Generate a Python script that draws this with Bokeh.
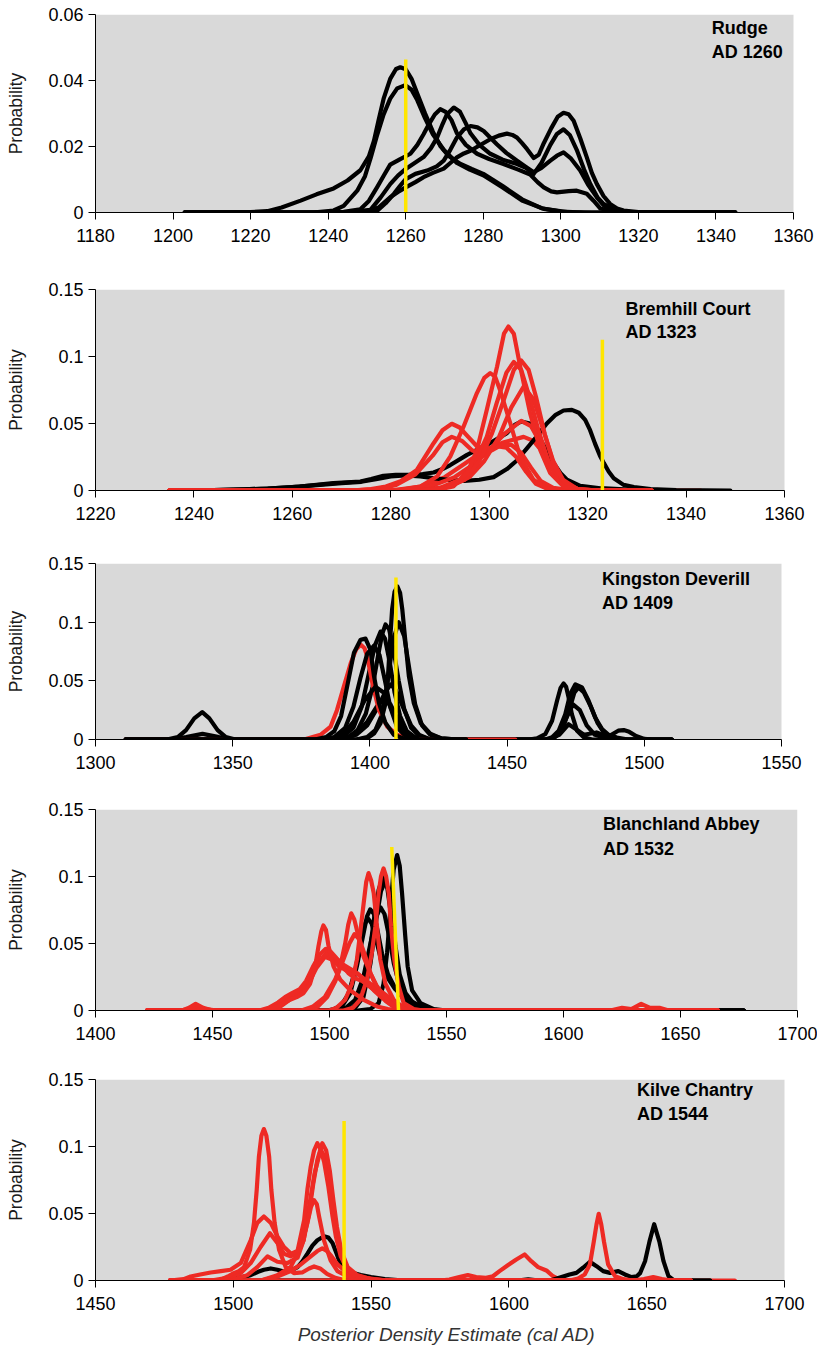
from bokeh.plotting import figure
from bokeh.layouts import column
from bokeh.models import Range1d, FixedTicker, Label, BoxAnnotation
from bokeh.embed import file_html
from bokeh.resources import INLINE

BLACK = "#000000"
RED = "#EE2A24"
YELLOW = "#FFE600"
GRAY = "#D9D9D9"

# ---------------- Panel 1: Rudge (AD 1260) ----------------
rudge_a = [(1203,0),(1220,0.0001),(1224.3,0.0004),(1228,0.0015),(1232.9,0.0036),(1237,0.0055),(1241.4,0.0073),(1245,0.0097),(1248.3,0.0128),(1250.5,0.017),(1251.8,0.0217),(1253,0.028),(1254.3,0.0345),(1256,0.0405),(1257.5,0.0435),(1258.6,0.0440),(1260,0.0434),(1261.5,0.0405),(1263,0.036),(1265,0.0300),(1267,0.0245),(1269,0.0200),(1271,0.0172),(1274,0.0148),(1277,0.0132),(1280,0.0117),(1285,0.0080),(1290,0.0040),(1295,0.0013),(1300,0.0003),(1306,0),(1345,0)]
rudge_b = [(1203,0),(1236,0),(1241.4,0.0006),(1244,0.002),(1247.5,0.0066),(1249.5,0.011),(1251,0.0167),(1252.5,0.023),(1254.3,0.0297),(1256,0.0345),(1257.8,0.0376),(1259.9,0.0386),(1261.5,0.0372),(1263,0.0340),(1265,0.0285),(1267,0.0237),(1269.8,0.0190),(1273.2,0.0150),(1276.5,0.0130),(1280,0.0113),(1285,0.0076),(1290,0.0036),(1295.6,0.0011),(1301.6,0.0001),(1308,0),(1345,0)]
rudge_c = [(1203,0),(1238,0),(1244,0.0002),(1248.3,0.0010),(1250.5,0.0035),(1252.6,0.0076),(1254.5,0.0115),(1256,0.0145),(1258.6,0.0162),(1261.2,0.0178),(1263,0.0205),(1264.6,0.0237),(1266,0.0268),(1267.5,0.0297),(1268.9,0.0313),(1270.3,0.0305),(1271.8,0.0280),(1273.2,0.0240),(1275.5,0.0205),(1278.4,0.0178),(1281.5,0.0162),(1285.2,0.0147),(1289,0.0130),(1292.1,0.0115),(1294,0.0092),(1295.6,0.0076),(1297.5,0.0064),(1299,0.0061),(1302,0.0065),(1304.1,0.0066),(1306.7,0.0057),(1308.5,0.0035),(1310.2,0.0012),(1314.4,0.0001),(1320,0),(1345,0)]
rudge_d = [(1203,0),(1240,0),(1246,0.0002),(1250.9,0.0008),(1253.5,0.0045),(1256,0.0086),(1258,0.0112),(1260,0.0132),(1262.3,0.0150),(1264.6,0.0168),(1266.5,0.0195),(1268.1,0.0227),(1269.5,0.0268),(1270.6,0.0297),(1272.4,0.0318),(1274,0.0305),(1275.5,0.0270),(1276.7,0.0240),(1279,0.0205),(1281.8,0.0178),(1285,0.0160),(1288.7,0.0147),(1291,0.0135),(1293,0.0117),(1295,0.0150),(1297.3,0.0205),(1299,0.0238),(1300.7,0.0252),(1302.3,0.0235),(1304.1,0.0190),(1306,0.0130),(1307.6,0.0086),(1309.5,0.0045),(1311,0.0026),(1314.4,0.0006),(1318,0.0001),(1325,0),(1345,0)]
rudge_e = [(1203,0),(1244,0),(1249,0.0001),(1252.6,0.0005),(1254.8,0.0028),(1256.9,0.0056),(1258.5,0.0080),(1260,0.0101),(1262.5,0.0117),(1265.5,0.0127),(1268,0.0140),(1269.8,0.0157),(1271.5,0.0190),(1273.2,0.0227),(1275,0.0252),(1276.7,0.0262),(1278.5,0.0258),(1280.1,0.0247),(1283.5,0.0207),(1286,0.0180),(1288.7,0.0157),(1291,0.0138),(1293,0.0122),(1295,0.0135),(1297.3,0.0157),(1299,0.0172),(1300.7,0.0182),(1302.5,0.0165),(1305,0.0127),(1307,0.0085),(1309.3,0.0046),(1311,0.0022),(1312.7,0.0011),(1316.2,0.0001),(1322,0),(1345,0)]
rudge_f = [(1203,0),(1244,0),(1250,0.0002),(1253,0.0015),(1256,0.0046),(1258,0.0062),(1260,0.0076),(1262.5,0.0092),(1264.6,0.0107),(1267,0.0120),(1269.8,0.0133),(1271.5,0.0150),(1273.2,0.0167),(1275,0.0179),(1276.7,0.0187),(1279,0.0203),(1281.8,0.0222),(1284,0.0233),(1286.1,0.0239),(1287.5,0.0235),(1288.7,0.0227),(1290,0.0210),(1291.3,0.0192),(1293,0.0165),(1294.3,0.0175),(1295.6,0.0210),(1297.5,0.0255),(1299.2,0.0290),(1300.7,0.0302),(1302,0.0298),(1303.3,0.0278),(1305,0.0225),(1306.7,0.0167),(1308,0.0120),(1309.3,0.0086),(1311,0.0050),(1312.7,0.0026),(1314.5,0.0012),(1316.2,0.0006),(1320,0.0001),(1330,0),(1345,0)]

# ---------------- Panel 2: Bremhill Court (AD 1323) ----------------
brem_k1 = [(1240,0),(1250,0.0008),(1255,0.0015),(1260,0.0025),(1265,0.0040),(1270,0.0055),(1274,0.0065),(1277,0.0085),(1280,0.0105),(1283,0.0112),(1286,0.0105),(1289,0.0090),(1292,0.0078),(1295,0.0072),(1298,0.0080),(1300.9,0.0100),(1303.6,0.0160),(1305.5,0.0220),(1307.7,0.0316),(1309.8,0.0410),(1311.7,0.0500),(1313.5,0.0565),(1315.1,0.0597),(1316.8,0.0602),(1318.2,0.0580),(1319.5,0.0527),(1320.5,0.0450),(1321.5,0.0350),(1322.5,0.0260),(1323.3,0.0204),(1324.3,0.0140),(1325.3,0.0092),(1327.3,0.0042),(1329.4,0.0025),(1332.8,0.0010),(1338,0.0003),(1349,0)]
brem_k2 = [(1240,0),(1250,0.0008),(1255,0.0015),(1261.5,0.0030),(1268.3,0.0055),(1273.8,0.0067),(1276,0.0085),(1278.5,0.0110),(1281,0.0117),(1283.9,0.0117),(1286.5,0.0122),(1288.7,0.0134),(1290.5,0.0160),(1292.1,0.0190),(1295.5,0.0266),(1299.5,0.0340),(1303.6,0.0428),(1305.2,0.0490),(1306.5,0.0515),(1308.3,0.0500),(1309.5,0.0445),(1310.4,0.0378),(1311.8,0.0290),(1313.1,0.0204),(1314.5,0.0130),(1315.8,0.0080),(1318.5,0.0035),(1322.6,0.0017),(1329.4,0.0005),(1335,0)]
brem_r1 = [(1235,0),(1285,0),(1290,0.001),(1292.7,0.003),(1295.5,0.013),(1297.5,0.030),(1299.5,0.060),(1301.6,0.0925),(1303,0.117),(1303.9,0.1224),(1305,0.117),(1306.3,0.0925),(1308.3,0.0577),(1310.4,0.030),(1312.4,0.013),(1315.1,0.003),(1318,0.0005),(1333,0)]
brem_r2 = [(1235,0),(1280,0),(1283,0.001),(1286,0.003),(1289.4,0.0104),(1292.1,0.0254),(1294.8,0.0478),(1297.5,0.0727),(1299,0.084),(1300.2,0.0876),(1301.2,0.085),(1302.2,0.075),(1304.3,0.050),(1306.3,0.025),(1309,0.008),(1311.7,0.0017),(1315,0),(1333,0)]
brem_r3 = [(1235,0),(1285,0),(1290,0.002),(1294,0.008),(1297,0.02),(1299.5,0.04),(1301.5,0.065),(1303.5,0.088),(1305,0.096),(1306.5,0.09),(1308,0.072),(1310,0.045),(1312,0.022),(1314,0.008),(1316.5,0.002),(1320,0),(1333,0)]
brem_r4 = [(1235,0),(1286,0),(1291,0.002),(1295,0.008),(1298,0.022),(1300.5,0.042),(1303,0.068),(1305,0.09),(1306.5,0.097),(1308,0.09),(1309.5,0.07),(1311.3,0.042),(1313.2,0.018),(1315.5,0.005),(1318,0.001),(1322,0),(1333,0)]
brem_r5 = [(1235,0),(1286,0),(1292,0.003),(1296,0.01),(1299,0.022),(1302,0.04),(1304.5,0.062),(1307,0.0776),(1309,0.068),(1311,0.045),(1313,0.022),(1315,0.008),(1318,0.001),(1322,0),(1333,0)]
brem_r6 = [(1235,0),(1282,0),(1288,0.003),(1293,0.01),(1297,0.02),(1300,0.03),(1303,0.042),(1306.5,0.052),(1308.5,0.048),(1310.5,0.035),(1312.5,0.018),(1315,0.006),(1318,0.001),(1322,0),(1333,0)]
brem_r7 = [(1235,0),(1280,0),(1286,0.003),(1291,0.01),(1295,0.02),(1299,0.03),(1303,0.036),(1307,0.040),(1309,0.037),(1311,0.028),(1313,0.015),(1315.5,0.005),(1318,0.001),(1322,0),(1343,0)]
brem_r8 = [(1235,0),(1272,0),(1276,0.001),(1279,0.003),(1282,0.007),(1285.3,0.0154),(1288.7,0.0353),(1290.5,0.045),(1292.4,0.0498),(1294,0.047),(1295.5,0.041),(1297.5,0.033),(1299.5,0.031),(1301.5,0.033),(1303.5,0.032),(1305.5,0.025),(1307.5,0.014),(1309.5,0.005),(1312,0.001),(1316,0),(1333,0)]
brem_r9 = [(1235,0),(1272,0),(1277,0.001),(1281,0.004),(1285,0.012),(1288.5,0.026),(1290.5,0.036),(1292.4,0.040),(1294.5,0.037),(1296.5,0.030),(1298.5,0.027),(1300.5,0.030),(1302.5,0.034),(1304.5,0.034),(1306.5,0.028),(1308.5,0.017),(1310.5,0.007),(1313,0.002),(1317,0),(1333,0)]

# ---------------- Panel 3: Kingston Deverill (AD 1409) ----------------
king_1 = [(1311,0),(1395,0),(1399,0.001),(1401.5,0.005),(1403.9,0.014),(1405.7,0.031),(1406.6,0.054),(1407.3,0.082),(1408.1,0.111),(1409,0.126),(1410,0.1305),(1411,0.125),(1411.8,0.111),(1413,0.082),(1414.2,0.054),(1416,0.031),(1418.5,0.014),(1422,0.005),(1426,0.001),(1432,0),(1435,0)]
king_2 = [(1311,0),(1395,0),(1399,0.002),(1402,0.008),(1404.5,0.022),(1406.5,0.050),(1408.5,0.085),(1410.5,0.100),(1412.5,0.088),(1414.5,0.058),(1416.5,0.030),(1419,0.012),(1422,0.004),(1426,0.001),(1432,0),(1458,0),(1460.9,0.001),(1463.9,0.0045),(1466.4,0.016),(1468.2,0.033),(1469.5,0.044),(1470.6,0.0478),(1471.5,0.045),(1472.4,0.036),(1473.6,0.0216),(1475.5,0.0074),(1477.9,0.002),(1481,0),(1510,0)]
king_3 = [(1311,0),(1388,0),(1392,0.002),(1395.5,0.008),(1398.5,0.022),(1401,0.045),(1403,0.072),(1404.5,0.090),(1405.7,0.098),(1407,0.094),(1408.5,0.078),(1410.5,0.050),(1412.5,0.026),(1415,0.010),(1418,0.003),(1422,0),(1464,0),(1466.4,0.002),(1468.8,0.0074),(1471.2,0.0216),(1473,0.0387),(1474.9,0.047),(1477.3,0.0444),(1479.7,0.033),(1482.1,0.0188),(1484.6,0.0088),(1487,0.004),(1490,0.0017),(1494,0),(1510,0)]
king_4 = [(1311,0),(1386,0),(1390,0.002),(1394,0.010),(1397,0.028),(1399.5,0.055),(1401.8,0.080),(1403.9,0.092),(1405.5,0.086),(1407.3,0.065),(1409,0.040),(1411,0.020),(1413.5,0.007),(1417,0.001),(1420,0),(1465,0),(1467.5,0.002),(1470,0.008),(1472.5,0.024),(1474.5,0.040),(1476,0.0444),(1478,0.040),(1480.5,0.028),(1483,0.014),(1485.5,0.005),(1489,0.001),(1493,0),(1510,0)]
king_5 = [(1311,0),(1380,0),(1384,0.002),(1387,0.007),(1389.5,0.020),(1391.7,0.045),(1394.2,0.074),(1396.6,0.085),(1398.4,0.086),(1400.2,0.0765),(1401.5,0.054),(1403.3,0.031),(1405.7,0.014),(1408.7,0.004),(1412,0.001),(1416,0),(1435,0)]
king_6 = [(1311,0),(1383,0),(1387,0.002),(1391,0.010),(1394,0.028),(1396.5,0.052),(1399,0.073),(1401.5,0.080),(1403.5,0.072),(1405.5,0.050),(1407.5,0.027),(1410,0.010),(1413,0.003),(1417,0),(1435,0)]
king_7 = [(1311,0),(1326,0),(1330,0.002),(1333,0.008),(1336,0.018),(1338.9,0.0233),(1341.5,0.018),(1344.5,0.008),(1347.5,0.002),(1351,0),(1385,0),(1390,0.004),(1394,0.015),(1398,0.033),(1402,0.045),(1405,0.040),(1408,0.025),(1411,0.010),(1414,0.003),(1418,0),(1435,0)]
king_8 = [(1311,0),(1328,0),(1333,0.002),(1339,0.0048),(1345,0.002),(1350,0),(1390,0),(1395,0.004),(1399,0.012),(1403,0.028),(1405.5,0.040),(1407.6,0.047),(1409.5,0.042),(1412,0.028),(1415,0.012),(1418,0.004),(1422,0),(1465,0),(1469,0.004),(1472.4,0.013),(1475,0.009),(1478,0.004),(1482.6,0.006),(1486,0.003),(1490,0),(1510,0)]
king_9 = [(1311,0),(1390,0),(1395,0.005),(1399,0.015),(1402.5,0.028),(1405,0.035),(1407.5,0.030),(1410,0.018),(1413,0.007),(1416,0.002),(1420,0),(1466,0),(1469,0.005),(1471.5,0.018),(1474,0.030),(1476.5,0.025),(1479,0.012),(1482,0.004),(1485,0.002),(1488,0.004),(1490.5,0.0075),(1492.5,0.008),(1494.5,0.0065),(1497,0.003),(1500,0.0005),(1503,0),(1510,0)]
king_r1 = [(1311,0),(1376,0),(1382,0.004),(1385.7,0.011),(1388,0.025),(1390.5,0.045),(1393,0.065),(1395,0.077),(1396.6,0.0808),(1398,0.078),(1399,0.071),(1400.9,0.048),(1403.3,0.025),(1406.3,0.011),(1410,0.004),(1414.8,0.0003),(1420,0),(1453,0)]

# ---------------- Panel 4: Blanchland Abbey (AD 1532) ----------------
blan_k1 = [(1425,0),(1512,0),(1517.4,0.001),(1521,0.0055),(1523.1,0.020),(1524.6,0.043),(1526,0.075),(1527.4,0.105),(1528.9,0.116),(1530,0.108),(1531,0.0876),(1532.4,0.055),(1533.4,0.033),(1535.3,0.015),(1538.9,0.0055),(1544.6,0.001),(1550,0),(1677,0)]
blan_k2 = [(1425,0),(1505,0),(1510,0.002),(1513.5,0.010),(1516.5,0.035),(1519,0.068),(1521,0.090),(1522.9,0.1003),(1524.5,0.094),(1526,0.075),(1527.5,0.050),(1529,0.028),(1531,0.012),(1534,0.004),(1538,0.001),(1545,0),(1677,0)]
blan_k3 = [(1425,0),(1506,0),(1511,0.002),(1514.5,0.010),(1517.5,0.035),(1520,0.068),(1522,0.089),(1523.7,0.096),(1525.2,0.090),(1526.7,0.072),(1528.2,0.048),(1530,0.027),(1532.5,0.013),(1536,0.005),(1540,0.0015),(1546,0),(1677,0)]
blan_k4 = [(1425,0),(1500,0),(1503,0.001),(1505.3,0.003),(1508.9,0.013),(1511.7,0.033),(1514.6,0.058),(1516,0.070),(1517.4,0.0755),(1519,0.072),(1520.5,0.060),(1522.5,0.042),(1525,0.027),(1528,0.017),(1531,0.010),(1535,0.004),(1540,0.001),(1546,0),(1677,0)]
blan_k5 = [(1425,0),(1499,0),(1502,0.001),(1505,0.004),(1508,0.012),(1511,0.030),(1513.5,0.052),(1515,0.064),(1516.3,0.069),(1518,0.065),(1520,0.052),(1522,0.038),(1525,0.024),(1528,0.016),(1531,0.011),(1534,0.008),(1537,0.005),(1541,0.002),(1546,0),(1677,0)]
blan_k6 = [(1425,0),(1503,0),(1507,0.002),(1511,0.008),(1514.5,0.025),(1517.5,0.050),(1520,0.070),(1521.8,0.077),(1523.5,0.072),(1525.5,0.055),(1527.5,0.035),(1530,0.018),(1533,0.008),(1537,0.003),(1542,0.001),(1548,0),(1677,0)]
blan_r1 = [(1422,0),(1500,0),(1503,0.002),(1506.7,0.008),(1509.6,0.020),(1511.7,0.038),(1513.1,0.0577),(1514.6,0.080),(1515.7,0.096),(1516.7,0.1025),(1517.8,0.097),(1518.9,0.0876),(1520.3,0.0627),(1521.7,0.038),(1523.9,0.020),(1527.4,0.008),(1531.7,0.0017),(1536,0),(1666,0)]
blan_r2 = [(1422,0),(1506,0),(1510,0.002),(1513.1,0.008),(1516,0.023),(1518.1,0.043),(1519.6,0.0627),(1521,0.0876),(1522,0.100),(1523.1,0.106),(1524.2,0.100),(1525.3,0.0876),(1526.3,0.0627),(1527.7,0.038),(1529.6,0.018),(1531.7,0.0055),(1536,0.001),(1540,0),(1666,0)]
blan_r3 = [(1422,0),(1488,0),(1493,0.003),(1498,0.010),(1502.4,0.023),(1504.6,0.033),(1506.7,0.050),(1508,0.064),(1509.3,0.0725),(1510.6,0.068),(1512.4,0.055),(1514.6,0.040),(1517.4,0.028),(1520.3,0.018),(1524.6,0.008),(1528,0.003),(1532,0.001),(1536,0),(1666,0)]
blan_r4 = [(1422,0),(1490,0),(1495,0.003),(1499,0.010),(1502.5,0.022),(1505.5,0.036),(1508.5,0.050),(1510.7,0.057),(1512.8,0.053),(1515,0.042),(1517.5,0.028),(1520.5,0.016),(1524,0.007),(1528,0.002),(1533,0),(1666,0)]
blan_r5 = [(1422,0),(1437,0),(1440,0.002),(1442.8,0.005),(1446,0.002),(1450,0),(1472,0),(1474.6,0.001),(1478.9,0.004),(1483.1,0.008),(1486,0.010),(1488.9,0.013),(1491.7,0.020),(1493.9,0.033),(1495.3,0.048),(1496.5,0.059),(1497.4,0.0635),(1498.5,0.060),(1499.6,0.048),(1501.7,0.033),(1504.6,0.023),(1508.9,0.015),(1514.6,0.008),(1520.3,0.003),(1525,0.001),(1530,0),(1666,0)]
blan_r6 = [(1422,0),(1470,0),(1474,0.002),(1478,0.006),(1481,0.010),(1484,0.013),(1487.3,0.016),(1490,0.022),(1493,0.033),(1496,0.042),(1498.4,0.046),(1500.5,0.044),(1503,0.039),(1506,0.034),(1509,0.031),(1511.7,0.028),(1514.5,0.024),(1517.4,0.020),(1520.3,0.016),(1523.1,0.013),(1526,0.009),(1528.9,0.0055),(1532,0.002),(1536,0),(1620,0),(1625,0.002),(1629,0.001),(1633.2,0.005),(1637,0.002),(1641,0.002),(1645,0),(1666,0)]
blan_r7 = [(1422,0),(1472,0),(1476,0.002),(1480,0.007),(1484,0.011),(1487.5,0.014),(1491,0.022),(1494.5,0.034),(1498.5,0.0425),(1502,0.040),(1505,0.034),(1508,0.028),(1511,0.024),(1514,0.022),(1517,0.018),(1520,0.014),(1524,0.009),(1528,0.004),(1532,0.001),(1536,0),(1666,0)]
blan_r8 = [(1422,0),(1436,0),(1440,0.001),(1443,0.003),(1447,0.001),(1452,0),(1475,0),(1479,0.003),(1483,0.008),(1487,0.012),(1491,0.020),(1494.5,0.032),(1498,0.040),(1501,0.038),(1504,0.033),(1507,0.030),(1510,0.029),(1513,0.026),(1516,0.021),(1519,0.015),(1522,0.010),(1526,0.005),(1530,0.002),(1535,0),(1666,0)]

# ---------------- Panel 5: Kilve Chantry (AD 1544) ----------------
kilve_k1 = [(1493,0),(1500,0.001),(1506.3,0.004),(1509,0.0065),(1511.1,0.008),(1513.6,0.009),(1516,0.008),(1518.4,0.0067),(1521,0.0075),(1523.3,0.010),(1525,0.014),(1526.9,0.020),(1528.7,0.026),(1530.5,0.030),(1532.9,0.033),(1534.5,0.032),(1536,0.028),(1537.3,0.021),(1538.4,0.015),(1540,0.010),(1541.4,0.008),(1543.5,0.0055),(1546.3,0.004),(1550,0.0025),(1555,0.001),(1562,0),(1603,0),(1607,0.0008),(1611,0),(1673,0)]
kilve_k2 = [(1493,0),(1615,0),(1619.7,0.003),(1622,0.0045),(1624.5,0.0057),(1626.9,0.0095),(1629.4,0.0139),(1631.8,0.0107),(1634.2,0.0070),(1636.7,0.0057),(1639.7,0.0070),(1642.1,0.0045),(1644.5,0.0025),(1646.4,0.0032),(1647.6,0.0055),(1649.4,0.0144),(1651,0.029),(1652.7,0.042),(1654.6,0.029),(1656.1,0.0144),(1657.9,0.0032),(1659.7,0.0005),(1663,0),(1673,0)]
kilve_r1 = [(1477,0),(1495,0),(1498,0.003),(1500.2,0.0055),(1502,0.007),(1503.9,0.010),(1506.1,0.023),(1507.5,0.043),(1508.5,0.0677),(1509.3,0.0926),(1510.2,0.108),(1511.1,0.113),(1512,0.108),(1513,0.0926),(1513.8,0.0677),(1515,0.043),(1516.6,0.023),(1519,0.010),(1522,0.0055),(1525,0.006),(1527.5,0.009),(1529.3,0.0105),(1531.5,0.009),(1534,0.005),(1537,0.002),(1541,0),(1666,0)]
kilve_r2 = [(1477,0),(1482,0.001),(1484.5,0.003),(1488,0.0045),(1491.8,0.006),(1495.5,0.007),(1499,0.008),(1502.7,0.013),(1506.3,0.030),(1508.7,0.043),(1511.1,0.0478),(1513.6,0.043),(1516,0.033),(1518.4,0.025),(1521,0.020),(1523.3,0.022),(1525.7,0.045),(1526.9,0.068),(1528.1,0.085),(1529.3,0.097),(1530.5,0.1025),(1531.7,0.098),(1533,0.088),(1534.5,0.070),(1536,0.048),(1537.2,0.033),(1539,0.018),(1541.4,0.008),(1545,0.003),(1550,0.001),(1555,0),(1666,0)]
kilve_r3 = [(1477,0),(1492,0),(1497.8,0.002),(1502.7,0.0055),(1506.3,0.013),(1509.9,0.025),(1513.3,0.0353),(1516,0.028),(1518.4,0.020),(1520.8,0.018),(1523.3,0.020),(1525.5,0.030),(1527.5,0.050),(1529,0.072),(1530.5,0.090),(1532.3,0.1025),(1533.7,0.097),(1535,0.082),(1536.3,0.060),(1537.6,0.040),(1539.2,0.022),(1541.5,0.010),(1545,0.004),(1550,0.001),(1556,0),(1666,0)]
kilve_r4 = [(1477,0),(1498,0),(1502,0.002),(1505.1,0.004),(1508.7,0.010),(1512.4,0.018),(1516,0.014),(1519.6,0.013),(1523.3,0.017),(1525.5,0.030),(1527.5,0.055),(1529.5,0.080),(1531.7,0.0975),(1533.2,0.092),(1534.6,0.078),(1536,0.056),(1537.4,0.036),(1539,0.020),(1541,0.009),(1544,0.003),(1548,0.001),(1553,0),(1666,0)]
kilve_r5 = [(1477,0),(1510,0),(1516,0.004),(1520.8,0.010),(1524.5,0.025),(1526.9,0.043),(1528.2,0.055),(1529.3,0.060),(1530.3,0.057),(1531.1,0.048),(1532.9,0.030),(1535.3,0.015),(1537.8,0.007),(1541.4,0.003),(1546,0.001),(1550,0),(1666,0)]
kilve_r6 = [(1477,0),(1510,0),(1516,0.003),(1520.8,0.007),(1524.5,0.012),(1528.1,0.018),(1530.5,0.022),(1532.3,0.024),(1534,0.022),(1535.3,0.019),(1537.8,0.012),(1541.4,0.0055),(1546.3,0.0025),(1551,0.001),(1556,0),(1666,0)]
kilve_r7 = [(1477,0),(1575,0),(1578.4,0.0007),(1582,0.0025),(1585.1,0.004),(1588.1,0.0025),(1591.7,0.002),(1594.2,0.0032),(1596.6,0.007),(1599.6,0.0114),(1602.7,0.0157),(1605.7,0.0194),(1608.1,0.0144),(1610.6,0.010),(1613.6,0.0075),(1616,0.0032),(1618.4,0.0007),(1621,0),(1682,0)]
kilve_r8 = [(1477,0),(1622,0),(1625.1,0.0015),(1627.5,0.0045),(1629.4,0.012),(1630.8,0.029),(1631.8,0.042),(1632.6,0.0498),(1633.5,0.042),(1634.5,0.029),(1636,0.012),(1638.5,0.0032),(1641.5,0.001),(1645,0),(1649,0.001),(1652.4,0.0025),(1655.5,0.001),(1659,0),(1666,0)]

# ---------------- reference (felling) lines and labels ----------------
yellow_x0 = [1260, 1323, 1409.5, 1526.6, 1540.2]
yellow_x1 = [1260, 1323, 1409.5, 1529.5, 1540.2]
yellow_y0 = [0.0464, 0.1125, 0.138, 0.122, 0.119]
yellow_y1 = [0.0, -0.002, -0.003, -0.001, -0.003]
site_names = ["Rudge", "Bremhill Court", "Kingston Deverill", "Blanchland Abbey", "Kilve Chantry"]
site_dates = ["AD 1260", "AD 1323", "AD 1409", "AD 1532", "AD 1544"]
x_ticks = [list(range(1180, 1361, 20)), list(range(1220, 1361, 20)),
           list(range(1300, 1551, 50)), list(range(1400, 1701, 50)),
           list(range(1450, 1701, 50))]
y_ticks = [[0, 0.02, 0.04, 0.06], [0, 0.05, 0.1, 0.15], [0, 0.05, 0.1, 0.15],
           [0, 0.05, 0.1, 0.15], [0, 0.05, 0.1, 0.15]]
y_tick_labels = [["0", "0.02", "0.04", "0.06"], ["0", "0.05", "0.1", "0.15"],
                 ["0", "0.05", "0.1", "0.15"], ["0", "0.05", "0.1", "0.15"],
                 ["0", "0.05", "0.1", "0.15"]]

panel_curves = [
    [(rudge_a, BLACK), (rudge_b, BLACK), (rudge_c, BLACK), (rudge_d, BLACK), (rudge_e, BLACK), (rudge_f, BLACK)],
    [(brem_r7, RED), (brem_k1, BLACK), (brem_k2, BLACK), (brem_r8, RED), (brem_r9, RED), (brem_r6, RED),
     (brem_r5, RED), (brem_r2, RED), (brem_r3, RED), (brem_r4, RED), (brem_r1, RED)],
    [(king_2, BLACK), (king_3, BLACK), (king_4, BLACK), (king_8, BLACK), (king_9, BLACK), (king_r1, RED),
     (king_7, BLACK), (king_6, BLACK), (king_5, BLACK), (king_1, BLACK)],
    [(blan_k5, BLACK), (blan_k4, BLACK), (blan_k6, BLACK), (blan_k3, BLACK), (blan_k2, BLACK), (blan_k1, BLACK),
     (blan_r8, RED), (blan_r7, RED), (blan_r6, RED), (blan_r5, RED), (blan_r4, RED), (blan_r3, RED),
     (blan_r1, RED), (blan_r2, RED)],
    [(kilve_r7, RED), (kilve_k1, BLACK), (kilve_k2, BLACK), (kilve_r6, RED), (kilve_r5, RED), (kilve_r4, RED),
     (kilve_r3, RED), (kilve_r2, RED), (kilve_r1, RED), (kilve_r8, RED)],
]

# Every figure shares a frame 95..797 px wide; the axis (and grey panel) of each
# ends at its last tick, so the x range is padded past it to keep each scale.
FRAME_L, FRAME_R = 95, 797
layout = [
    dict(h=270, top=14, bot=58, axis_px=698, lx=1338.9, ly=(0.0558, 0.0486)),
    dict(h=275, top=19, bot=55, axis_px=689, lx=1327.7, ly=(0.1356, 0.1181)),
    dict(h=245, top=18, bot=51, axis_px=686, lx=1484.6, ly=(0.1370, 0.1161)),
    dict(h=270, top=19, bot=50, axis_px=702, lx=1616.9, ly=(0.1390, 0.1207)),
    dict(h=289, top=19, bot=69, axis_px=689, lx=1646.5, ly=(0.1423, 0.1244)),
]

FONT = "Liberation Sans"
figs = []
for i, L in enumerate(layout):
    x0, x1 = x_ticks[i][0], x_ticks[i][-1]
    per_px = (x1 - x0) / L["axis_px"]
    x_end = x0 + per_px * (FRAME_R - FRAME_L)
    ytop = y_ticks[i][-1]
    p = figure(width=817, height=L["h"], output_backend="svg", toolbar_location=None,
               x_range=Range1d(x0, x_end), y_range=Range1d(0, ytop),
               min_border_left=FRAME_L, min_border_right=817 - FRAME_R,
               min_border_top=L["top"], min_border_bottom=L["bot"])
    p.background_fill_color = "white"
    p.border_fill_color = "white"
    p.outline_line_color = None
    p.xgrid.grid_line_color = None
    p.ygrid.grid_line_color = None
    p.add_layout(BoxAnnotation(left=x0, right=x1, bottom=0, top=ytop, fill_color=GRAY,
                               fill_alpha=1.0, line_color=None, level="underlay"))

    for ax in (p.xaxis[0], p.yaxis[0]):
        ax.axis_line_color = BLACK
        ax.axis_line_width = 1
        ax.major_tick_line_color = BLACK
        ax.major_tick_out = 7
        ax.major_tick_in = 0
        ax.minor_tick_line_color = None
        ax.major_label_text_font = FONT
        ax.major_label_text_font_size = "18px"
        ax.major_label_text_color = BLACK
    p.xaxis.bounds = (x0, x1)
    p.xaxis.ticker = FixedTicker(ticks=x_ticks[i])
    p.xaxis.major_label_standoff = 9
    p.yaxis.ticker = FixedTicker(ticks=y_ticks[i])
    p.yaxis.major_label_overrides = {float(t): s for t, s in zip(y_ticks[i], y_tick_labels[i])}
    p.yaxis.major_label_standoff = 5
    p.yaxis.axis_label = "Probability"
    p.yaxis.axis_label_text_font = FONT
    p.yaxis.axis_label_text_font_size = "17.5px"
    p.yaxis.axis_label_text_font_style = "normal"
    p.yaxis.axis_label_text_color = "#1a1a1a"
    p.yaxis.axis_label_standoff = 19
    if i == 4:
        p.xaxis.axis_label = "Posterior Density Estimate (cal AD)"
        p.xaxis.axis_label_text_font = FONT
        p.xaxis.axis_label_text_font_size = "19px"
        p.xaxis.axis_label_text_font_style = "italic"
        p.xaxis.axis_label_text_color = "#333333"
        p.xaxis.axis_label_standoff = 11

    for curve, color in panel_curves[i]:
        p.line([c[0] for c in curve], [c[1] for c in curve], line_color=color,
               line_width=4.2, line_join="round", line_cap="round")

    p.segment(x0=[yellow_x0[i]], y0=[yellow_y0[i]], x1=[yellow_x1[i]], y1=[yellow_y1[i]],
              line_color=YELLOW, line_width=3.5)

    for txt, yy in ((site_names[i], L["ly"][0]), (site_dates[i], L["ly"][1])):
        p.add_layout(Label(x=L["lx"], y=yy, text=txt, text_font=FONT, text_font_size="18px",
                           text_font_style="bold", text_color=BLACK,
                           text_align="left", text_baseline="middle"))
    figs.append(p)

page = column(*figs, spacing=0)
open("out.html", "w").write(file_html(page, INLINE))
